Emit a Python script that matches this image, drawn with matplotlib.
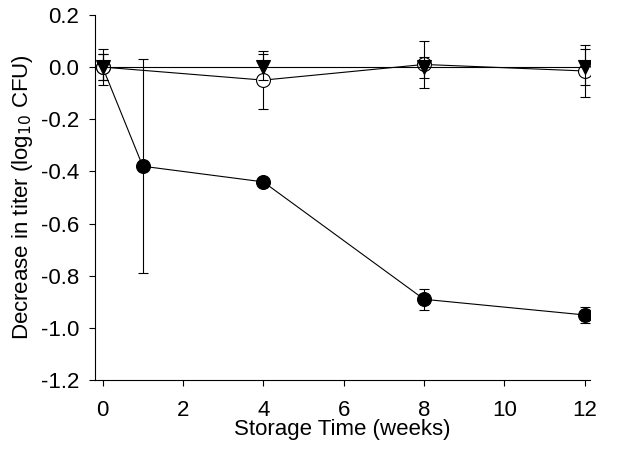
import matplotlib.pyplot as plt

plt.rcParams['font.family'] = ['Liberation Sans', 'DejaVu Sans']

# data
weeks_filled = [0, 1, 4, 8, 12]
filled = [0.0, -0.38, -0.44, -0.89, -0.95]
filled_err = [0.05, 0.41, 0.01, 0.04, 0.03]

weeks_open = [0, 4, 8, 12]
open_vals = [0.0, -0.05, 0.01, -0.015]
open_err = [0.07, 0.11, 0.09, 0.10]

weeks_tri = [0, 4, 8, 12]
tri_vals = [0.0, 0.0, 0.0, 0.0]
tri_err = [0.05, 0.05, 0.04, 0.07]

fig = plt.figure(figsize=(6.26, 4.51), dpi=100)
ax = fig.add_axes([0.151, 0.157, 0.791, 0.81])

common = dict(color='black', ecolor='black', elinewidth=0.8, capsize=3.6,
              capthick=0.8, linewidth=0.8, markersize=10, markeredgewidth=0.8)
ax.errorbar(weeks_filled, filled, yerr=filled_err, fmt='-o',
            markerfacecolor='black', markeredgecolor='black', zorder=3, **common)
ax.errorbar(weeks_open, open_vals, yerr=open_err, fmt='-o',
            markerfacecolor='white', markeredgecolor='black', zorder=4, **common)
ax.errorbar(weeks_tri, tri_vals, yerr=tri_err, fmt='-v',
            markerfacecolor='black', markeredgecolor='black', zorder=5, **common)

ax.set_xlim(-0.2, 12.12)
ax.set_ylim(-1.2, 0.2)
ax.set_xticks(range(0, 13, 2))
yt = [0.2, 0.0, -0.2, -0.4, -0.6, -0.8, -1.0, -1.2]
ax.set_yticks(yt)
ax.set_yticklabels([f"{v:.1f}" for v in yt])
ax.tick_params(direction='out', length=4, width=0.8, labelsize=16)
ax.tick_params(axis='x', pad=10)
ax.tick_params(axis='y', pad=7)
ax.spines['top'].set_visible(False)
ax.spines['right'].set_visible(False)
for s in ['left', 'bottom']:
    ax.spines[s].set_linewidth(0.8)

ax.set_xlabel("Storage Time (weeks)", fontsize=16, labelpad=-1)
ax.set_ylabel("Decrease in titer (log$_{10}$ CFU)", fontsize=16, labelpad=4)

fig.savefig("out.png", dpi=100)
